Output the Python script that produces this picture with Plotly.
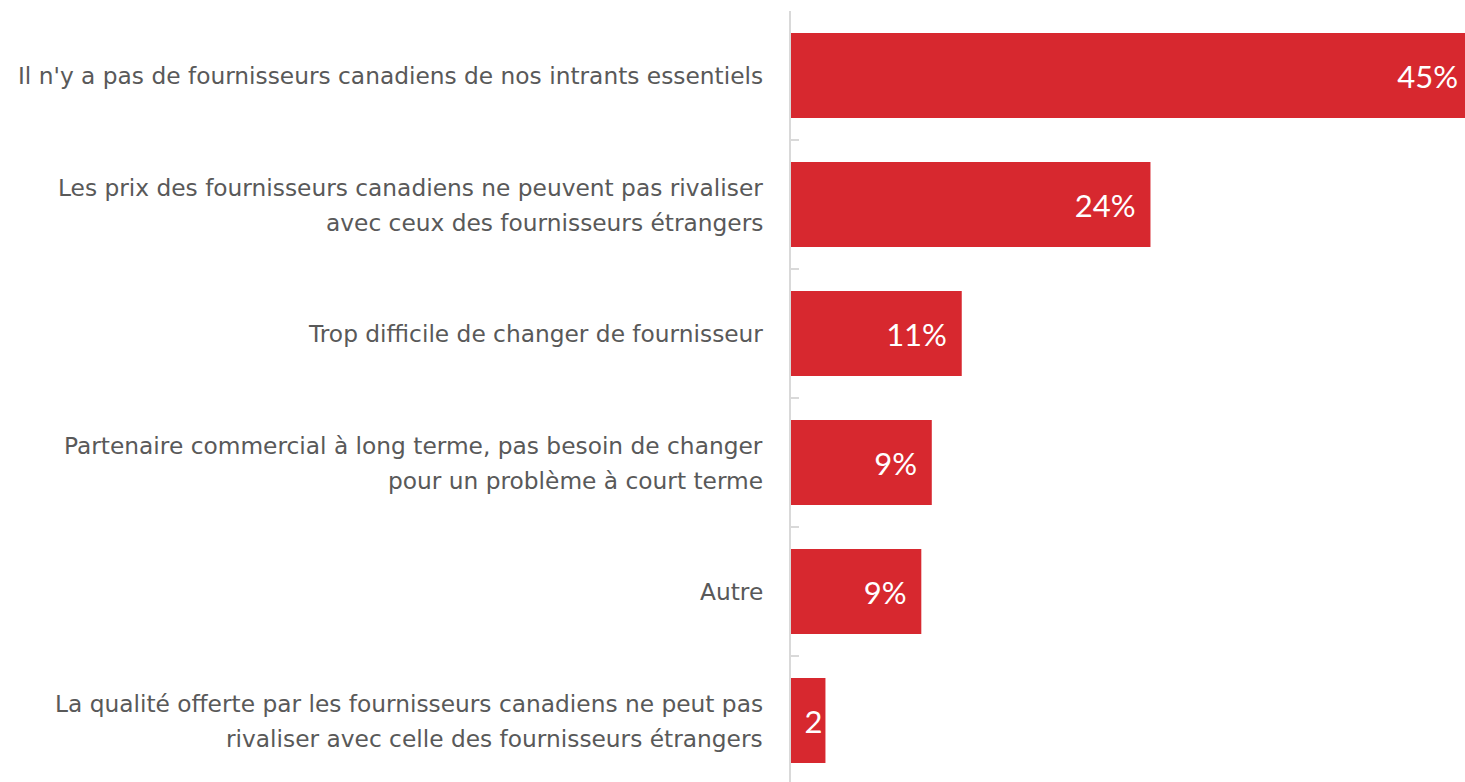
import plotly.graph_objects as go

categories = [
    "Il n'y a pas de fournisseurs canadiens de nos intrants essentiels",
    "Les prix des fournisseurs canadiens ne peuvent pas rivaliser<br>avec ceux des fournisseurs étrangers",
    "Trop difficile de changer de fournisseur",
    "Partenaire commercial à long terme, pas besoin de changer<br>pour un problème à court terme",
    "Autre",
    "La qualité offerte par les fournisseurs canadiens ne peut pas<br>rivaliser avec celle des fournisseurs étrangers",
]
values = [45, 24, 11.4, 9.4, 8.7, 2.3]
value_labels = ["45%", "24%", "11%", "9%", "9%", "2"]

# inside label padding (first bar sits at the edge, last bar is too narrow)
templates = ["%{text}\u2009"] + ["%{text}\u00a0\u2009"] * (len(values) - 2) + ["%{text}"]

fig = go.Figure(
    go.Bar(
        x=values,
        y=categories,
        orientation="h",
        marker=dict(color="#d7282f", line=dict(width=0)),
        text=value_labels,
        texttemplate=templates,
        textposition="inside",
        insidetextanchor="end",
        constraintext="none",
        textfont=dict(family="Lato", size=31, color="white", weight=400),
        hoverinfo="skip",
    )
)

# category labels as annotations (allows the wider line spacing of the original)
LINE_GAP = 35
for cat in categories:
    lines = cat.split("<br>")
    n = len(lines)
    for i, line in enumerate(lines):
        fig.add_annotation(
            x=0,
            xref="paper",
            y=cat,
            yref="y",
            text=line,
            showarrow=False,
            xanchor="right",
            yanchor="middle",
            xshift=-26,
            yshift=-(i - (n - 1) / 2) * LINE_GAP,
            font=dict(family="DejaVu Sans", size=23.3, color="#595959"),
        )

fig.update_layout(
    width=1465,
    height=785,
    margin=dict(l=791, r=0, t=11, b=0),
    plot_bgcolor="white",
    paper_bgcolor="white",
    bargap=0.34,
    showlegend=False,
    xaxis=dict(
        range=[0, 45],
        visible=False,
        showgrid=False,
        zeroline=False,
        fixedrange=True,
    ),
    yaxis=dict(
        autorange="reversed",
        showline=True,
        linecolor="#d9d9d9",
        linewidth=2,
        ticks="inside",
        tickson="boundaries",
        ticklen=8,
        tickwidth=2,
        tickcolor="#d9d9d9",
        showgrid=False,
        showticklabels=False,
        fixedrange=True,
    ),
)

fig.write_html(
    "out.html",
    config={"displayModeBar": False},
    post_script="document.body.style.margin='0';document.body.style.overflow='hidden';",
)
